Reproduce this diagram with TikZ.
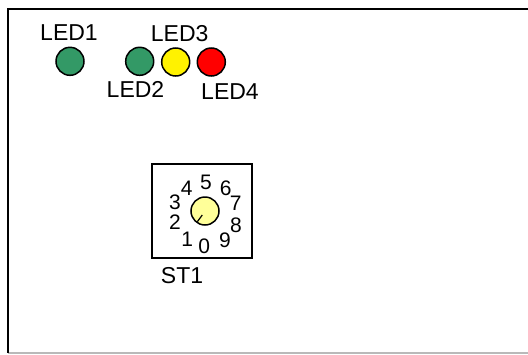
\documentclass[tikz,border=0pt]{standalone}
\usepackage{fontspec}
\setmainfont{Liberation Sans}
\usepackage{tikz}
\usetikzlibrary{calc,positioning}
\definecolor{ledgreen}{RGB}{51,153,102}
\definecolor{knobyellow}{RGB}{255,255,153}

\begin{document}
\begin{tikzpicture}[x=1pt, y=-1pt, line width=1.5pt,
      lbl/.style={inner sep=0pt, font=\fontsize{23}{25}\selectfont},
      digit/.style={inner sep=0pt, font=\fontsize{21}{23}\selectfont},
      led/.style={draw, circle, inner sep=0pt, minimum size=28pt}]
    \useasboundingbox (0,0) rectangle (528,354);
    % board, runs off the page on the right
    \coordinate (NE) at (529,9);
    \coordinate (NW) at (8,9);
    \coordinate (SW) at (8,353);
    \coordinate (SE) at (529,353);
    \draw[gray!55] (SW) -- (SE);
    \draw (NE) -- (NW) -- (SW);
    % leds
    \node[led, fill=ledgreen] (L1) at (70,61.3) {};
    \node[led, fill=ledgreen] (L2) at (139.7,61.3) {};
    \node[led, fill=yellow] (L3) at (175.7,62) {};
    \node[led, fill=red] (L4) at (211.3,62) {};
    \node[lbl] (T1) at (69,32.5) {LED1};
    \node[lbl] (T2) at (135.5,89.7) {LED2};
    \node[lbl] (T3) at (179.7,33.8) {LED3};
    \node[lbl] (T4) at (230,92) {LED4};
    % switch
    \node[draw, line width=2pt, inner sep=0pt, minimum width=100pt, minimum height=94pt] (ST) at (202,210.5) {};
    \node[draw, circle, fill=knobyellow, inner sep=0pt, minimum size=28pt] (knob) at (205,211) {};
    \coordinate (needle) at (202.3,215);
    \coordinate (tip) at (197.3,221.7);
    \draw[line width=1.2pt] (needle) -- (tip);
    \node[lbl] (Tst) at (182,275.7) {ST1};
    \node[digit] (d0) at (204.3,246.7) {0};
    \node[digit] (d1) at (187.3,239.3) {1};
    \node[digit] (d2) at (175,222.3) {2};
    \node[digit] (d3) at (175,202.3) {3};
    \node[digit] (d4) at (186.7,188.3) {4};
    \node[digit] (d5) at (206,182) {5};
    \node[digit] (d6) at (225.7,188.3) {6};
    \node[digit] (d7) at (235.7,203.3) {7};
    \node[digit] (d8) at (236,225) {8};
    \node[digit] (d9) at (225,240) {9};
\end{tikzpicture}
\end{document}
